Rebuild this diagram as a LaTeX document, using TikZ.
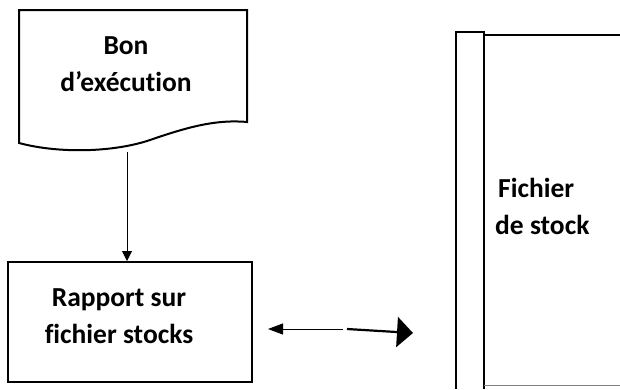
\documentclass[tikz,border=0pt]{standalone}
\usepackage{fontspec}
\setmainfont{Carlito}[Ligatures=NoCommon]
\usetikzlibrary{arrows.meta}
\begin{document}
\begin{tikzpicture}[x=1pt,y=-1pt,
  lbl/.style={font=\bfseries\fontsize{27.5}{37}\selectfont, align=center, inner sep=0pt},
  box/.style={draw, line width=2pt},
]
\useasboundingbox (0,0) rectangle (620,389);
% document shape
\draw[box] (19,10) -- (247,10) -- (247,122)
  .. controls (215,119) and (185,128) .. (150,140)
  .. controls (115,152) and (60,154) .. (19,143) -- cycle;
\node[lbl] (bon) at (126,64) {Bon\\d’exécution};
\coordinate (docb) at (127,152);
% rapport box
\node[box, minimum width=244pt, minimum height=120pt, inner sep=0pt] (rap) at (130,322) {};
\node[lbl] (raptxt) at (119,316) {Rapport sur\\fichier stocks};
\draw[line width=1pt, -{Triangle[length=10pt,width=10pt]}] (docb) -- (rap.north -| docb);
% fichier shape
\draw[line width=2pt] (456,389) -- (456,32) -- (484,32) -- (484,389);
\draw[line width=2pt] (484,35) -- (620,35);
\draw[line width=0.8pt, gray] (484,385) -- (620,385);
\node[lbl, align=left, anchor=west] (fic) at (495,206) {\hspace*{3pt}Fichier\\de stock};
% double arrow
\coordinate (m1) at (343,329);
\coordinate (l) at (268,329);
\coordinate (m2) at (347,329);
\coordinate (r) at (413,333);
\draw[line width=1pt, -{Triangle[length=15pt,width=11pt]}] (m1) -- (l);
\draw[line width=2.2pt, -{Triangle[length=16pt,width=30pt]}] (m2) -- (r);
\end{tikzpicture}
\end{document}
